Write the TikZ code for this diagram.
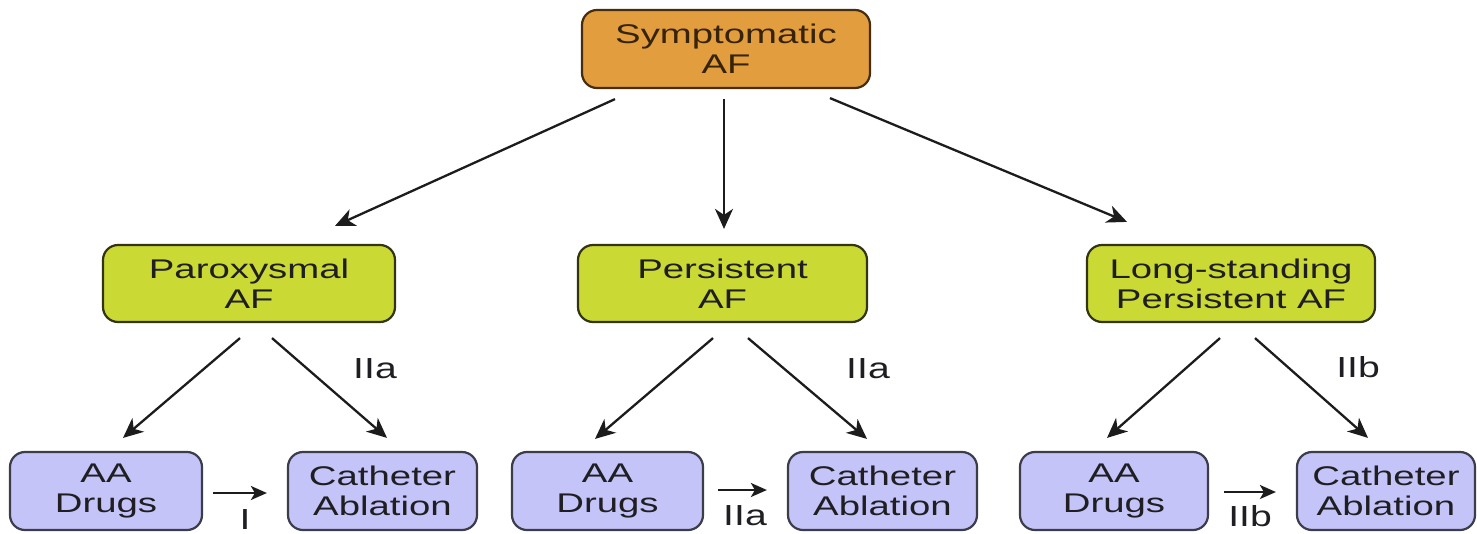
\documentclass[tikz,border=0pt]{standalone}
\usepackage{fontspec}
\setmainfont{Liberation Sans}
\newfontfamily\boxfont[FakeStretch=1.42]{Liberation Sans}
\newfontfamily\labfont[FakeStretch=1.35]{Liberation Sans}
\usetikzlibrary{arrows.meta,calc}
\definecolor{orangefill}{RGB}{226,157,62}
\definecolor{orangeline}{RGB}{70,45,15}
\definecolor{orangetext}{RGB}{55,35,10}
\definecolor{greenfill}{RGB}{203,217,52}
\definecolor{greenline}{RGB}{50,52,20}
\definecolor{lavfill}{RGB}{197,196,248}
\definecolor{lavline}{RGB}{60,60,75}
\definecolor{darktext}{RGB}{30,30,35}
\definecolor{arrowc}{RGB}{28,28,28}
\begin{document}
\begin{tikzpicture}[x=1pt,y=-1pt,
  box/.style={draw, line width=2.2pt, rounded corners=15pt, align=center, inner sep=0pt,
    minimum height=78pt, font=\boxfont\fontsize{27}{30}\selectfont},
  orangebox/.style={box, fill=orangefill, draw=orangeline, text=orangetext},
  greenbox/.style={box, fill=greenfill, draw=greenline, text=darktext, minimum height=77pt},
  lavbox/.style={box, fill=lavfill, draw=lavline, text=darktext},
  arr/.style={line width=2.3pt, draw=arrowc, -{Stealth[length=20pt,width=18pt,inset=6pt]}},
  harr/.style={line width=2.3pt, draw=arrowc, -{Stealth[length=16pt,width=14pt,inset=4pt]}},
  lab/.style={font=\labfont\fontsize{29}{32}\selectfont, text=darktext, inner sep=0pt}]
\useasboundingbox (0,0) rectangle (1477,533);

% nodes
\node[orangebox, minimum width=288pt] (top) at (726,49) {Symptomatic\\AF};
\node[greenbox, minimum width=292pt] (parox) at (249,283.5) {Paroxysmal\\AF};
\node[greenbox, minimum width=289pt] (persist) at (722.5,283.5) {Persistent\\AF};
\node[greenbox, minimum width=288pt] (long) at (1231,283.5) {Long-standing\\Persistent AF};

\node[lavbox, minimum width=192pt] (aa1) at (106,491) {AA\\Drugs};
\node[lavbox, minimum width=189pt] (ca1) at (382.5,491) {Catheter\\Ablation};
\node[lavbox, minimum width=191pt] (aa2) at (607.5,491) {AA\\Drugs};
\node[lavbox, minimum width=189pt] (ca2) at (882.5,491) {Catheter\\Ablation};
\node[lavbox, minimum width=188pt] (aa3) at (1114,491) {AA\\Drugs};
\node[lavbox, minimum width=178pt] (ca3) at (1386,491) {Catheter\\Ablation};

% top arrows
\draw[arr] ($(top.south)+(-111,10)$) -- ($(parox.north)+(86,-18)$);
\draw[arr] ($(top.south)+(-2,10)$) -- ($(persist.north)+(1.5,-15)$);
\draw[arr] ($(top.south)+(104,9)$) -- ($(long.north)+(-104,-22)$);

% middle arrows
\draw[arr] ($(parox.south)+(-9,15)$) -- ($(aa1.north)+(17,-13)$);
\draw[arr] ($(parox.south)+(23,15)$) -- ($(ca1.north)+(4.5,-13)$);
\draw[arr] ($(persist.south)+(-9.5,15)$) -- ($(aa2.north)+(-12.5,-12)$);
\draw[arr] ($(persist.south)+(25.5,15)$) -- ($(ca2.north)+(-15.5,-12)$);
\draw[arr] ($(long.south)+(-11,15)$) -- ($(aa3.north)+(-7,-13)$);
\draw[arr] ($(long.south)+(24,15)$) -- ($(ca3.north)+(-18,-13)$);

% horizontal arrows
\draw[harr] ($(aa1.east)+(10,2)$) -- ($(ca1.west)+(-20,2)$);
\draw[harr] ($(aa2.east)+(14,-1)$) -- ($(ca2.west)+(-20,-1)$);
\draw[harr] ($(aa3.east)+(15,1)$) -- ($(ca3.west)+(-20,1)$);

% labels
\node[lab] (l1) at (375,369) {IIa};
\node[lab] (l2) at (868,369) {IIa};
\node[lab] (l3) at (1358,367) {IIb};
\node[lab, anchor=north] (h1) at (245,509) {I};
\node[lab, anchor=north] (h2) at (745,505) {IIa};
\node[lab, anchor=north] (h3) at (1250,505) {IIb};
\end{tikzpicture}
\end{document}
